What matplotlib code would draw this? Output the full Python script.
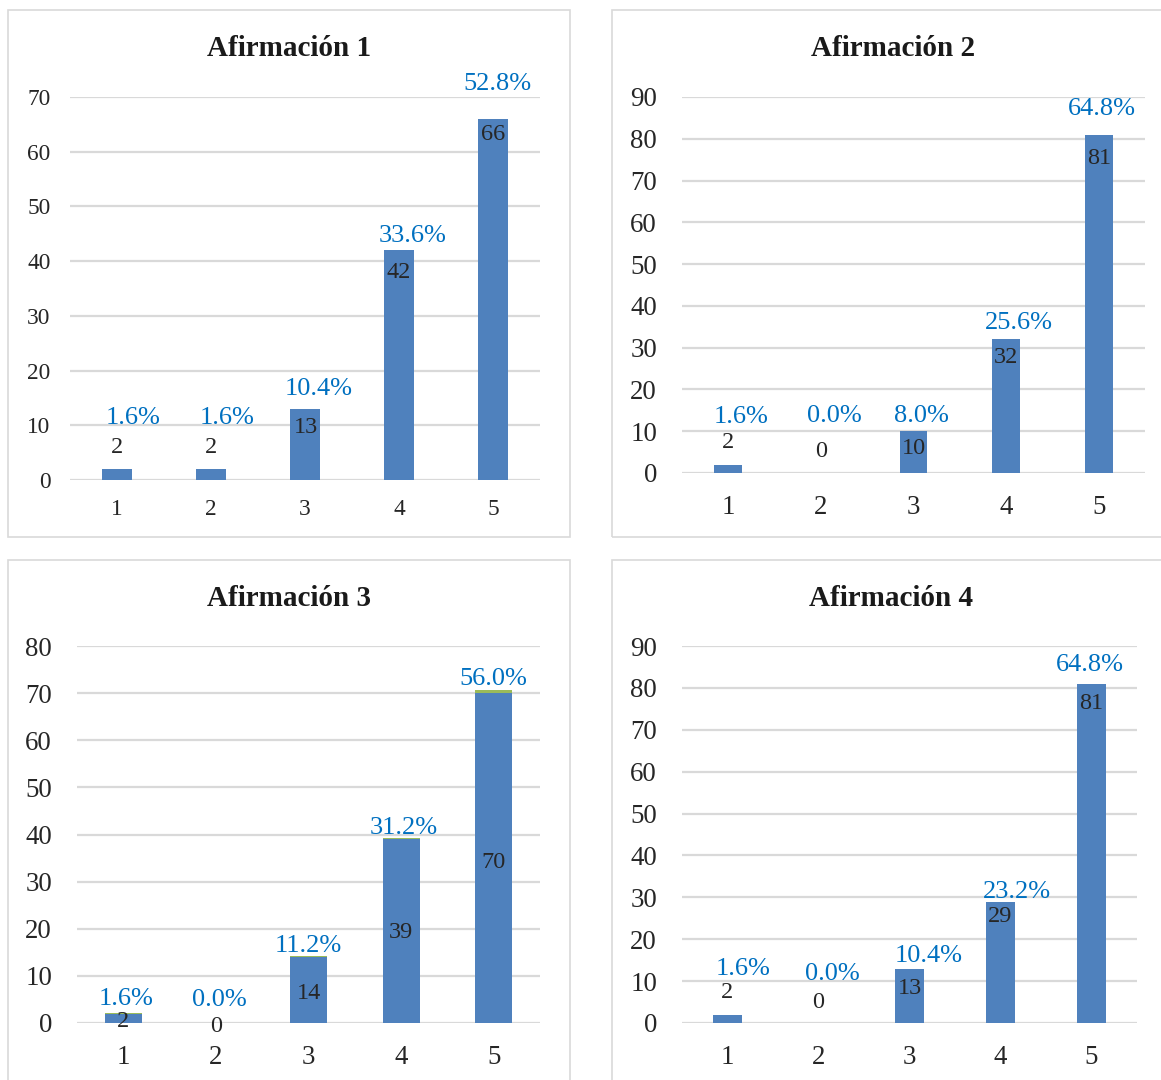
import matplotlib
matplotlib.use('Agg')
import matplotlib.pyplot as plt
from matplotlib.patches import Rectangle

plt.rcParams['font.family'] = ['Liberation Serif', 'DejaVu Serif']

W, H = 1161, 1080

responses = [1, 2, 3, 4, 5]
titles = ['Afirmación 1', 'Afirmación 2', 'Afirmación 3', 'Afirmación 4']

counts_1 = [2, 2, 13, 42, 66]
counts_2 = [2, 0, 10, 32, 81]
counts_3 = [2, 0, 14, 39, 70]
counts_4 = [2, 0, 13, 29, 81]

pct_1 = [1.6, 1.6, 10.4, 33.6, 52.8]
pct_2 = [1.6, 0.0, 8.0, 25.6, 64.8]
pct_3 = [1.6, 0.0, 11.2, 31.2, 56.0]
pct_4 = [1.6, 0.0, 10.4, 23.2, 64.8]

y_max = [70, 90, 80, 90]

BAR = '#4F81BD'
PCT = '#0070C0'
GRID = '#D9D9D9'
TXT = '#262626'

# text boxes are centred on their full height, nudge them onto the glyphs
NUDGE = -3

fig = plt.figure(figsize=(W / 100, H / 100), dpi=100)


def frac(left, right, bottom, top):
    # pixel box (top-left origin) -> figure fraction rect
    return [left / W, 1 - bottom / H, (right - left) / W, (bottom - top) / H]


def draw_panel(i, counts, pct, ax_box, frame_box, title_y, tick_fs, tick_pad,
               xpad, width, count_off, pct_off, centered=False, cap=False):
    l, r, b, t = ax_box
    fl, fr, fb, ft = frame_box
    fig.patches.append(Rectangle((fl / W, 1 - fb / H), (fr - fl) / W, (fb - ft) / H,
                                 transform=fig.transFigure, fill=False,
                                 edgecolor=GRID, lw=1.2))
    fig.text((fl + fr) / 2 / W, 1 - title_y / H, titles[i], ha='center', va='center',
             fontsize=21, fontweight='bold', color='#1a1a1a')

    ax = fig.add_axes(frac(l, r, b, t))
    ax.set_facecolor('none')
    ax.bar(responses, counts, width=width, color=BAR, zorder=3)
    if cap:
        # percentage series stacked on top: a thin green sliver
        ax.bar(responses, [p / 100 for p in pct], width=width,
               bottom=counts, color='#9BBB59', zorder=3)
    ax.set_xlim(0.5, 5.5)
    ax.set_ylim(0, y_max[i])
    ax.set_yticks(range(0, y_max[i] + 1, 10))
    ax.set_xticks(responses)
    ax.grid(axis='y', color=GRID, lw=1.6, zorder=0)
    ax.set_axisbelow(True)
    for s in ax.spines.values():
        s.set_visible(False)
    ax.tick_params(axis='both', length=0, labelsize=tick_fs, colors=TXT)
    ax.tick_params(axis='y', pad=tick_pad)
    ax.tick_params(axis='x', pad=xpad)

    for x, c, p, co, po in zip(responses, counts, pct, count_off, pct_off):
        cy = c / 2 if centered else c
        ax.annotate(str(c), xy=(x, cy), xytext=(co[0], co[1] + NUDGE),
                    textcoords='offset pixels', ha='center', va='center',
                    fontsize=17.5, color=TXT, zorder=5)
        ax.annotate(f'{p:.1f}%', xy=(x, c), xytext=(po[0], po[1] + NUDGE),
                    textcoords='offset pixels', ha='center', va='center',
                    fontsize=19, color=PCT, zorder=5)
    return ax


draw_panel(0, counts_1, pct_1,
           ax_box=(70, 540, 480, 97), frame_box=(8, 570, 537, 10), title_y=49,
           tick_fs=16.8, tick_pad=14, xpad=14, width=0.31,
           count_off=[(0, 25), (0, 25), (1, -16), (0, -19), (0, -13)],
           pct_off=[(16, 54), (16, 54), (14, 23), (14, 17), (4, 38)])

draw_panel(1, counts_2, pct_2,
           ax_box=(682, 1145, 473, 97), frame_box=(612, 1174, 537, 10), title_y=49,
           tick_fs=19.4, tick_pad=18, xpad=16, width=0.30,
           count_off=[(0, 25), (0, 24), (0, -14), (0, -15), (0, -21)],
           pct_off=[(13, 51), (13, 60), (8, 18), (13, 19), (3, 29)])

draw_panel(2, counts_3, pct_3,
           ax_box=(77, 540, 1023, 646), frame_box=(8, 570, 1095, 560), title_y=599,
           tick_fs=19.4, tick_pad=18, xpad=16, width=0.40,
           count_off=[(0, 0), (0, 0), (0, 0), (0, 2), (0, -1)],
           pct_off=[(3, 18), (3, 26), (0, 14), (3, 14), (0, 17)],
           centered=True, cap=True)

draw_panel(3, counts_4, pct_4,
           ax_box=(682, 1137, 1023, 646), frame_box=(612, 1170, 1095, 560), title_y=599,
           tick_fs=19.4, tick_pad=18, xpad=16, width=0.31,
           count_off=[(0, 25), (0, 24), (0, -17), (0, -12), (0, -17)],
           pct_off=[(16, 49), (14, 52), (19, 16), (16, 13), (-2, 22)])

fig.savefig('out.png', dpi=100)
